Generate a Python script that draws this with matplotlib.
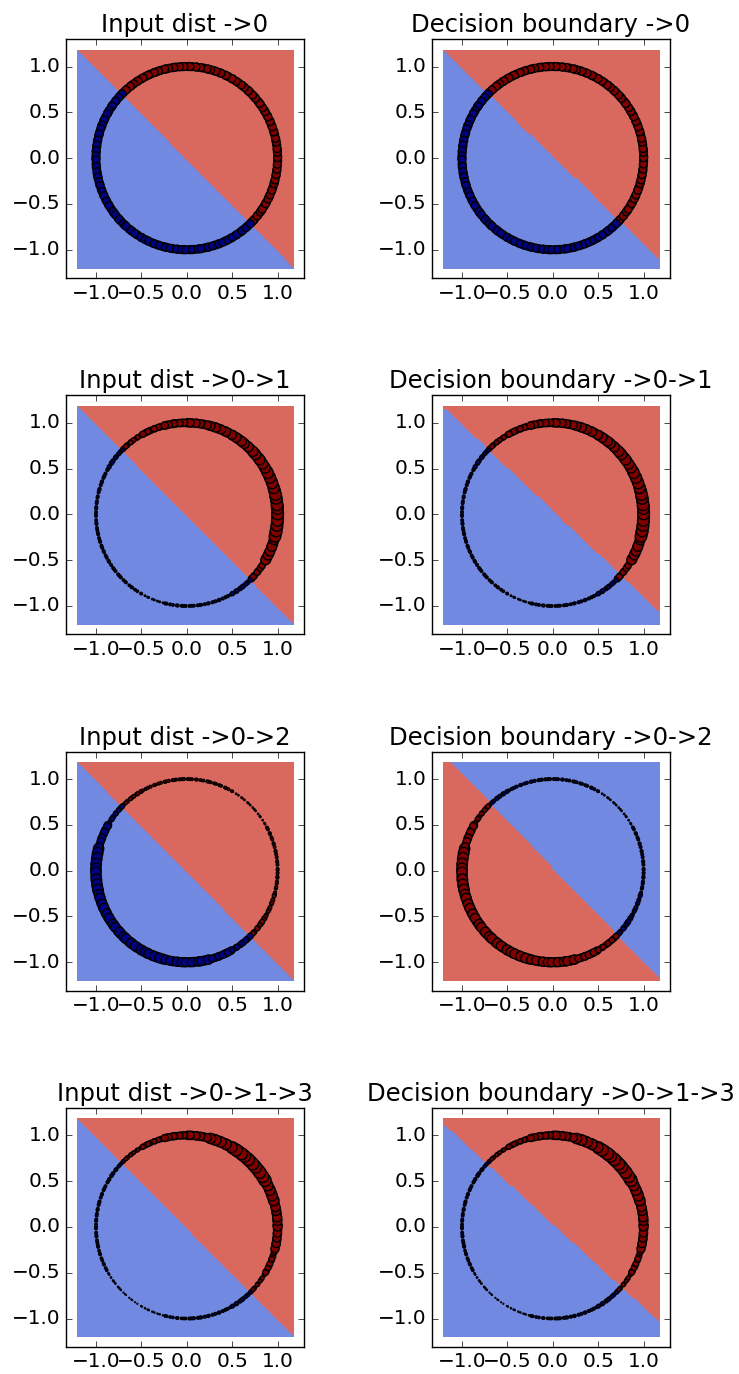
#!/usr/bin/env python
# Decision boundaries of a small tree of linear classifiers on the unit circle

import numpy as np
import matplotlib
matplotlib.use("Agg")
import matplotlib.pyplot as plt

plt.style.use('classic')
plt.rcParams['figure.facecolor'] = 'white'
plt.rcParams['savefig.facecolor'] = 'white'
plt.rcParams['font.size'] = 14.4

# Sample angles (degrees) on the unit circle, split by true label
red_angles = [-44.6, -43.1, -41.9, -39.2, -38.4, -36.0, -34.7, -33.9, -31.5, -29.8,
              -28.9, -26.4, -25.1, -23.7, -21.2, -20.5, -18.6, -16.1, -15.2, -13.8,
              -11.3, -10.4, -8.2, -6.9, -4.5, -3.8, -1.6, 0.3, 1.1, 3.7,
              5.2, 6.0, 8.4, 10.1, 11.8, 12.5, 14.9, 16.7, 17.4, 19.9,
              21.3, 23.6, 24.2, 26.8, 28.1, 30.5, 31.2, 33.4, 35.9, 36.6,
              38.3, 40.8, 42.0, 43.5, 45.7, 47.3, 48.1, 50.6, 52.2, 53.0,
              55.4, 57.1, 59.6, 60.2, 62.7, 64.4, 65.1, 67.8, 69.0, 71.3,
              72.5, 74.9, 76.2, 77.0, 79.5, 81.3, 83.6, 84.2, 86.7, 88.0,
              89.4, 91.8, 93.1, 94.6, 96.9, 98.2, 99.0, 101.5, 103.3, 104.1,
              106.6, 108.2, 110.4, 111.0, 113.5, 115.2, 116.8, 118.9, 120.3, 122.6,
              123.4, 125.8, 127.5, 128.3, 130.7, 132.1, 134.2]
blue_angles = [135.5, 137.0, 138.6, 140.9, 141.7, 144.2, 145.5, 146.1, 148.7, 150.3,
               151.0, 153.6, 155.2, 156.4, 158.9, 159.5, 161.3, 163.8, 164.7, 166.1,
               168.6, 169.5, 171.8, 173.0, 175.4, 176.3, 178.5, 180.2, 181.0, 183.6,
               185.3, 186.1, 188.5, 190.0, 191.7, 192.6, 195.0, 196.8, 197.5, 200.0,
               201.4, 203.5, 204.3, 206.7, 208.2, 210.4, 211.3, 213.5, 215.8, 216.7,
               218.2, 220.9, 222.1, 223.4, 225.8, 227.2, 228.0, 230.7, 232.3, 233.1,
               235.3, 237.0, 239.7, 240.3, 242.6, 244.5, 245.2, 247.7, 249.1, 251.2,
               252.6, 254.8, 256.3, 257.1, 259.4, 261.2, 263.7, 264.3, 266.8, 268.1,
               269.3, 271.7, 273.2, 274.5, 277.0, 278.3, 279.1, 281.4, 283.4, 284.0,
               286.5, 288.3, 290.5, 291.1, 293.4, 295.3, 296.9, 299.0, 300.2, 302.7,
               303.5, 305.9, 307.4, 308.4, 310.6, 312.2, 314.3]

# Sample weights shown as marker area, one value per 15 degree sector
# red sectors start at -45 deg, blue sectors start at 135 deg
red_sizes_0 = [32, 32, 32, 32, 32, 32, 32, 32, 32, 32, 32, 32]
blue_sizes_0 = [32, 32, 32, 32, 32, 32, 32, 32, 32, 32, 32, 32]
red_sizes_01 = [20, 48, 70, 70, 62, 55, 48, 42, 35, 28, 20, 12]
blue_sizes_01 = [8, 4, 3.5, 3.5, 3.5, 3.5, 3, 1.2, 3.5, 3.5, 4, 9]
red_sizes_02 = [12, 7, 4, 3.5, 3.5, 1.0, 1.0, 3.5, 3.5, 4, 4, 7]
blue_sizes_02 = [11, 28, 55, 55, 50, 48, 48, 48, 42, 42, 28, 17]
red_sizes_013 = [8, 17, 35, 42, 55, 75, 75, 55, 35, 25, 14, 7]
blue_sizes_013 = [5, 3.5, 3.5, 3.5, 3, 1.0, 0.4, 0.8, 3, 4, 4, 7]

# Panels: title, sizes, colour flip, boundary y = slope*x + intercept
titles = ["Input dist ->0", "Decision boundary ->0",
          "Input dist ->0->1", "Decision boundary ->0->1",
          "Input dist ->0->2", "Decision boundary ->0->2",
          "Input dist ->0->1->3", "Decision boundary ->0->1->3"]
panel_red_sizes = [red_sizes_0, red_sizes_0, red_sizes_01, red_sizes_01,
                   red_sizes_02, red_sizes_02, red_sizes_013, red_sizes_013]
panel_blue_sizes = [blue_sizes_0, blue_sizes_0, blue_sizes_01, blue_sizes_01,
                    blue_sizes_02, blue_sizes_02, blue_sizes_013, blue_sizes_013]
flipped = [False, False, False, False, False, True, False, False]
boundary_slopes = [-1.0, -0.96, -1.0, -0.94, -1.0, -1.03, -1.0, -0.91]
boundary_intercepts = [0.0, 0.03, 0.0, 0.05, 0.0, 0.04, 0.0, 0.04]

BG_BLUE = '#7189E0'
BG_RED = '#D9685F'
PT_BLUE = '#000080'
PT_RED = '#800000'


def sector_sizes(angles, sizes, start):
    """Look up the marker area for each angle from its 15 degree sector"""
    idx = [min(int((a - start) // 15), len(sizes) - 1) for a in angles]
    return np.array([sizes[i] for i in idx], dtype=float)


def main():
    fig, axes = plt.subplots(4, 2, figsize=(7.39, 13.74), dpi=100)
    fig.subplots_adjust(left=0.0893, right=0.9066, top=0.9716, bottom=0.0197,
                        wspace=0.538, hspace=0.49)

    grid = np.arange(-1.2, 1.2, 0.02)
    xx, yy = np.meshgrid(grid, grid)

    red_t = np.radians(red_angles)
    blue_t = np.radians(blue_angles)
    xs = np.concatenate([np.cos(red_t), np.cos(blue_t)])
    ys = np.concatenate([np.sin(red_t), np.sin(blue_t)])
    # draw every other sample first so neighbours overlap in mixed order
    n = len(xs)
    order = np.concatenate([np.arange(0, n, 2), np.arange(1, n, 2)])

    for i, ax in enumerate(axes.flat):
        # Background decision regions
        upper = (yy > boundary_slopes[i] * xx + boundary_intercepts[i]).astype(float)
        if flipped[i]:
            region_colors = [BG_RED, BG_BLUE]
        else:
            region_colors = [BG_BLUE, BG_RED]
        ax.contourf(xx, yy, upper, levels=[-0.5, 0.5, 1.5], colors=region_colors)

        # Weighted samples
        sizes = np.concatenate([sector_sizes(red_angles, panel_red_sizes[i], -45),
                                sector_sizes(blue_angles, panel_blue_sizes[i], 135)])
        if flipped[i]:
            cols = [PT_BLUE] * len(red_angles) + [PT_RED] * len(blue_angles)
        else:
            cols = [PT_RED] * len(red_angles) + [PT_BLUE] * len(blue_angles)
        cols = np.array(cols)
        ax.scatter(xs[order], ys[order], s=sizes[order], c=list(cols[order]),
                   edgecolors='black', linewidths=1.0)

        ax.set_xlim(-1.33, 1.29)
        ax.set_ylim(-1.31, 1.30)
        ax.set_xticks([-1.0, -0.5, 0.0, 0.5, 1.0])
        ax.set_yticks([-1.0, -0.5, 0.0, 0.5, 1.0])
        ax.set_title(titles[i], fontsize=17.5)

    plt.savefig('out.png', dpi=100)
    plt.close()


if __name__ == "__main__":
    main()
